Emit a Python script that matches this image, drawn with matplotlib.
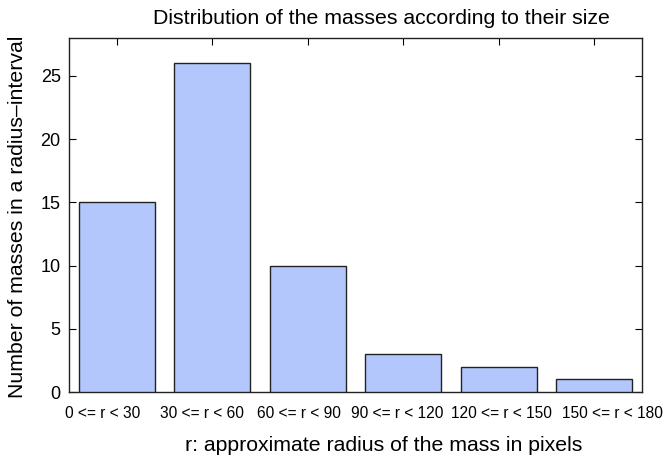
import matplotlib
matplotlib.use("Agg")
import matplotlib.pyplot as plt
from matplotlib.transforms import ScaledTranslation

plt.rcParams['font.family'] = ['Liberation Sans', 'DejaVu Sans']

categories = ["0 <= r < 30", "30 <= r < 60", "60 <= r < 90", "90 <= r < 120",
              "120 <= r < 150", "150 <= r < 180"]
counts = [15, 26, 10, 3, 2, 1]
yticks = [0, 5, 10, 15, 20, 25]

W, H = 670, 461
fig = plt.figure(figsize=(W/100, H/100), dpi=100)
ax = fig.add_axes([69/W, 1-392/H, (642-69)/W, (392-38)/H])

x = list(range(len(categories)))
ax.bar(x, counts, width=0.8, color="#b4c7fd", edgecolor="#222222", linewidth=1.0, zorder=3)
ax.set_xlim(-0.5, 5.5)
ax.set_ylim(0, 28)
ax.set_xticks(x)
ax.set_xticklabels(categories, fontsize=11.2)
ax.set_yticks(yticks)
ax.tick_params(axis='y', direction='in', right=True, left=True, length=5, labelsize=13, pad=6)
ax.tick_params(axis='x', direction='in', top=True, bottom=True, length=5, pad=10)
for sp in ax.spines.values():
    sp.set_color("#222222")
    sp.set_linewidth(1.0)

# the reference spreads its category labels slightly wider than the ticks (offsets in px)
label_shift_px = [-14, -10.5, -9, -6, 3, 18]
for lab, dx in zip(ax.get_xticklabels(), label_shift_px):
    lab.set_transform(lab.get_transform() + ScaledTranslation(dx/100, 0, fig.dpi_scale_trans))

fig.text(381/W, 1-24/H, "Distribution of the masses according to their size",
         fontsize=15.3, ha='center', va='baseline')
fig.text(384/W, 1-451/H, "r: approximate radius of the mass in pixels",
         fontsize=15.3, ha='center', va='baseline')
fig.text(18/W, 1-217/H, "Number of masses in a radius\u2013interval",
         fontsize=15.3, ha='center', va='center', rotation=90)

fig.savefig("out.png", dpi=100)
